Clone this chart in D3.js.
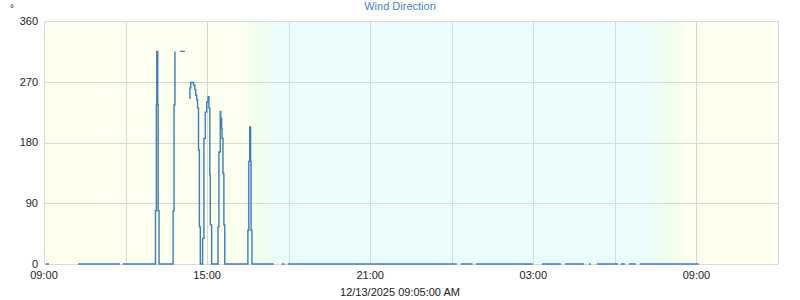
<!DOCTYPE html>
<html>
<head>
<meta charset="utf-8">
<script src="https://cdn.jsdelivr.net/npm/d3@7"></script>
<style>
  body { margin: 0; background: #fff; }
  text { font-family: "Liberation Sans", Arial, sans-serif; }
</style>
</head>
<body>
<div class="chart"></div>
<script>
// readings, 12/12 09:00 -> 12/13 09:05 (null = no data)
const times = ['09:04', '09:11', '09:12', '10:15', '11:48', '11:49', '11:54', '13:06', '13:08', '13:09',
  '13:11', '13:12', '13:14', '13:45', '13:47', '13:49', '13:50', '14:00', '14:11', '14:12',
  '14:20', '14:22', '14:24', '14:30', '14:33', '14:35', '14:37', '14:39', '14:41', '14:43',
  '14:45', '14:50', '14:53', '14:56', '14:59', '15:02', '15:04', '15:06', '15:07', '15:10',
  '15:24', '15:26', '15:29', '15:30', '15:32', '15:33', '15:35', '15:37', '15:39', '16:30',
  '16:32', '16:34', '16:36', '16:37', '16:39', '17:27', '17:28', '17:45', '17:51', '17:52',
  '17:58', '00:11', '00:12', '00:20', '00:46', '00:47', '00:53', '02:59', '03:00', '03:19',
  '04:01', '04:02', '04:10', '04:52', '04:53', '05:03', '05:07', '05:08', '05:20', '06:07',
  '06:08', '06:13', '06:22', '06:23', '06:31', '06:46', '06:47', '06:55', '09:05'];
const dirs = [0, 0, null, 0, 0, null, 0, 79, 236, 315,
  236, 79, 0, 79, 236, 315, null, 315, 315, null,
  246, 261, 269, 265, 258, 250, 243, 231, 169, 55,
  0, 38, 186, 225, 240, 248, 231, 132, 58, 0,
  55, 166, 226, 216, 201, 186, 134, 58, 0, 50,
  152, 203, 152, 50, 0, 0, null, 0, 0, null,
  0, 0, null, 0, 0, null, 0, 0, null, 0,
  0, null, 0, 0, null, 0, 0, null, 0, 0,
  null, 0, 0, null, 0, 0, null, 0, 0];

const yTicks = [0, 90, 180, 270, 360];
const labelTimes = ['09:00', '15:00', '21:00', '03:00', '09:00'];
// day/night shading: [time, colour]
const skyTimes = ['16:17', '16:57', '17:43', '06:57', '08:01', '08:41'];
const skyColors = ['#fdffef', '#effeee', '#ebfcfd', '#ebfcfd', '#effeee', '#fdffef'];

const startDate = new Date(2025, 11, 12, 9, 0);
const endDate = new Date(2025, 11, 13, 12, 0);

// turn HH:MM list into dates, rolling over midnight
const toDates = (list) => {
    let day = 12, prev = -1;
    return list.map(s => {
        const [h, m] = s.split(':').map(Number);
        if (h * 60 + m < prev) day++;
        prev = h * 60 + m;
        return new Date(2025, 11, day, h, m);
    });
};

const width = 800, height = 300;
const margin = { top: 21, right: 22, bottom: 36, left: 44 };

const svg = d3.select('.chart').append('svg')
    .attr('width', width)
    .attr('height', height);

const x = d3.scaleTime().domain([startDate, endDate]).range([margin.left, width - margin.right]);
const y = d3.scaleLinear().domain([0, 360]).range([height - margin.bottom, margin.top]);

// background gradient
const grad = svg.append('defs').append('linearGradient')
    .attr('id', 'sky')
    .attr('gradientUnits', 'userSpaceOnUse')
    .attr('x1', x.range()[0]).attr('x2', x.range()[1])
    .attr('y1', 0).attr('y2', 0);
const span = x.range()[1] - x.range()[0];
grad.append('stop').attr('offset', 0).attr('stop-color', skyColors[0]);
toDates(skyTimes).forEach((d, i) => {
    grad.append('stop')
        .attr('offset', (x(d) - x.range()[0]) / span)
        .attr('stop-color', skyColors[i]);
});
grad.append('stop').attr('offset', 1).attr('stop-color', skyColors[skyColors.length - 1]);

svg.append('rect')
    .attr('x', x.range()[0]).attr('y', y.range()[1])
    .attr('width', span).attr('height', y.range()[0] - y.range()[1])
    .attr('fill', 'url(#sky)');

// grid
const gridTimes = d3.timeHour.every(3).range(startDate, d3.timeMinute.offset(endDate, 1));
svg.append('g')
    .selectAll('line')
    .data(gridTimes)
    .join('line')
        .attr('x1', d => Math.round(x(d)) + 0.5).attr('x2', d => Math.round(x(d)) + 0.5)
        .attr('y1', y.range()[1]).attr('y2', y.range()[0])
        .attr('stroke', '#d9d9d9');
svg.append('g')
    .selectAll('line')
    .data(yTicks)
    .join('line')
        .attr('x1', x.range()[0]).attr('x2', x.range()[1])
        .attr('y1', d => Math.round(y(d)) + 0.5).attr('y2', d => Math.round(y(d)) + 0.5)
        .attr('stroke', '#d9d9d9');

// y labels
svg.append('g')
    .selectAll('text')
    .data(yTicks)
    .join('text')
        .attr('x', margin.left - 6)
        .attr('y', d => y(d))
        .attr('dy', '0.35em')
        .attr('text-anchor', 'end')
        .attr('font-size', 11)
        .attr('fill', '#222')
        .text(d => d);

// x labels
svg.append('g')
    .selectAll('text')
    .data(toDates(labelTimes))
    .join('text')
        .attr('x', d => x(d))
        .attr('y', 279)
        .attr('text-anchor', 'middle')
        .attr('font-size', 11)
        .attr('fill', '#222')
        .text((d, i) => labelTimes[i]);

// line
const readings = toDates(times).map((d, i) => ({ t: d, v: dirs[i] }));
const line = d3.line()
    .defined(d => d.v !== null)
    .x(d => x(d.t))
    .y(d => y(d.v))
    .curve(d3.curveStepAfter);

svg.append('path')
    .datum(readings)
    .attr('fill', 'none')
    .attr('stroke', '#3b7dbd')
    .attr('stroke-width', 1.4)
    .attr('d', line);

// titles
svg.append('text')
    .attr('x', width / 2).attr('y', 10)
    .attr('text-anchor', 'middle')
    .attr('font-size', 11)
    .attr('fill', '#4a86c4')
    .text('Wind Direction');

svg.append('text')
    .attr('x', 10).attr('y', 12)
    .attr('font-size', 10)
    .attr('fill', '#222')
    .text('°');

svg.append('text')
    .attr('x', width / 2).attr('y', 296)
    .attr('text-anchor', 'middle')
    .attr('font-size', 11)
    .attr('fill', '#222')
    .text('12/13/2025 09:05:00 AM');
</script>
</body>
</html>
